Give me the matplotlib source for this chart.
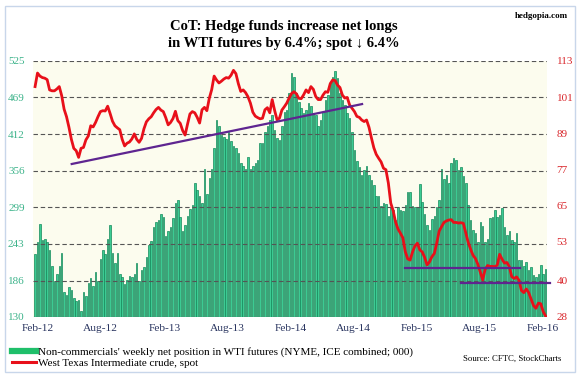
import matplotlib
matplotlib.use("Agg")
import matplotlib.pyplot as plt
import matplotlib.dates as mdates
from matplotlib.lines import Line2D
from matplotlib.patches import Rectangle
import pandas as pd

# weekly net longs (000 contracts), Jan-2012 .. Feb-2016
net_longs = [
    227, 245, 273, 249, 251, 245, 234, 209, 186, 197,
    208, 229, 169, 164, 177, 172, 159, 155, 156, 140,
    169, 162, 183, 190, 178, 199, 185, 219, 233, 227,
    251, 272, 228, 214, 229, 197, 192, 181, 187, 193,
    192, 197, 214, 185, 202, 207, 223, 241, 247, 269,
    276, 280,
    289, 285, 255, 263, 269, 282, 306, 310, 285, 262,
    272, 286, 296, 303, 336, 326, 316, 306, 359, 320,
    345, 359, 390, 434, 425, 411, 407, 404, 416, 401,
    394, 390, 383, 368, 363, 359, 377, 359, 363, 367,
    373, 399, 399, 416, 424, 434, 442, 418, 406, 403,
    424, 447, 449, 475, 506,
    501, 475, 462, 452, 444, 449, 460, 455, 444, 442,
    424, 434, 447, 465, 473, 491, 501, 510, 498, 475,
    465, 457, 444, 437, 416, 388, 370, 362, 349, 357,
    363, 349, 341, 334, 317, 316, 301, 306, 305, 286,
    300, 295, 280, 300, 295, 293, 303, 323, 323, 301,
    300, 300, 335, 308,
    289, 272, 265, 281, 286, 300, 311, 358, 343, 349,
    337, 367, 376, 373, 357, 362, 348, 336, 303, 279,
    264, 259, 245, 277, 270, 245, 251, 282, 285, 295,
    285, 287, 298, 269, 257, 263, 249, 246, 260, 218,
    218, 208, 215, 203, 207, 195, 192, 197, 210, 197,
    204,
]

# WTI spot, same weeks
wti_spot = [
    104.5, 109.0, 108.0, 107.5, 107.3, 106.8, 103.4, 103.1, 103.1, 103.7,
    104.5, 101.5, 97.0, 94.5, 91.0, 87.0, 84.0, 83.2, 81.0, 84.0,
    84.3, 86.8, 88.1, 91.5, 91.1, 92.6, 94.5, 96.2, 96.5, 96.4,
    98.0, 95.6, 93.0, 91.5, 90.8, 90.2, 87.0, 84.8, 85.7, 86.1,
    87.1, 88.8, 87.0, 86.0, 87.3, 90.5, 92.8, 93.8, 94.5, 95.8,
    96.9, 97.6, 96.7, 96.2, 94.2, 91.8, 92.6, 93.9, 96.3, 93.2,
    92.3, 89.9, 88.4, 92.0, 95.4, 96.2, 95.8, 94.3, 92.4, 96.8,
    97.6, 96.5, 100.6, 103.5, 108.0, 106.7, 105.7, 106.3, 107.0, 107.5,
    107.3, 108.3, 109.9, 108.8, 105.5, 102.9, 103.4, 102.5, 101.1, 99.0,
    96.0, 94.7, 94.2, 93.8, 94.0, 96.8, 97.5, 95.8, 100.2, 96.6,
    93.5, 94.0, 96.7, 97.8, 99.0, 100.7, 102.2, 102.8, 102.1, 100.6,
    100.5, 101.8, 103.4, 102.5, 104.5, 103.6, 101.2, 100.2, 100.2, 101.7,
    102.8, 102.6, 105.5, 106.7, 106.5, 105.0, 104.2, 101.7, 100.7, 100.9,
    98.4, 97.3, 96.2, 94.6, 94.3, 93.4, 92.9, 93.4, 91.0, 87.5,
    84.2, 82.0, 80.7, 79.5, 77.4, 76.9, 72.5, 65.8, 63.3, 59.5,
    57.2, 55.8, 54.3, 49.7, 47.3, 46.9, 49.6, 51.6, 52.5, 50.3,
    49.6, 47.8, 45.3, 46.3, 48.0, 49.1, 52.5, 56.5, 58.0, 59.4,
    59.9, 60.2, 60.3, 59.4, 59.4, 59.2, 59.3, 59.1, 56.0, 52.8,
    50.5, 48.5, 47.4, 45.5, 42.9, 40.3, 43.8, 45.1, 44.8, 44.8,
    44.7, 45.2, 48.8, 47.2, 45.9, 46.1, 44.7, 41.4, 40.8, 41.3,
    40.2, 36.8, 36.1, 37.3, 36.1, 34.0, 31.8, 30.9, 32.6, 32.4,
    29.8, 28.3,
]

last_week = "2016-02-09"
left_ticks = [130, 186, 243, 299, 356, 412, 469, 525]
right_ticks = [28, 40, 53, 65, 77, 89, 101, 113]

# trend / support lines drawn on the chart (date, price)
trend_up = (["2012-05-09", "2014-08-27"], [78.8, 98.7])
support_1 = (["2014-12-30", "2015-11-27"], [44.2, 44.2])
support_2 = (["2015-06-10", "2016-02-22"], [39.4, 39.4])

weeks = pd.date_range(end=last_week, periods=len(net_longs), freq="7D")

serif = ["Liberation Serif", "DejaVu Serif"]
plt.rcParams["font.family"] = serif

fig = plt.figure(figsize=(5.82, 3.79), dpi=100)
fig.patch.set_facecolor("white")
ax = fig.add_axes([33 / 582, 1 - 317 / 379, 514 / 582, 256 / 379])
ax.set_facecolor("#fcfcee")

ax.bar(weeks, net_longs, width=4.4, color="#3ccb93", edgecolor="#13895a",
       linewidth=0.5, zorder=1)
ax.set_ylim(130, 525)
ax.set_yticks(left_ticks)
ax.set_xlim(weeks[0] - pd.Timedelta(days=6), weeks[-1] + pd.Timedelta(days=4))
ax.grid(axis="y", color="#555555", linestyle=(0, (4, 2.5)), linewidth=0.8)
ax.set_axisbelow(False)
ax.xaxis.set_major_locator(mdates.MonthLocator(bymonth=[2, 8]))
ax.xaxis.set_major_formatter(mdates.DateFormatter("%b-%y"))
ax.tick_params(axis="x", length=0, pad=5, labelsize=8.2, labelcolor="#2a3560")
ax.tick_params(axis="y", length=0, pad=6, labelsize=8, labelcolor="#3cb38a")

ax2 = ax.twinx()
ax2.plot(weeks, wti_spot, color="#e8101a", linewidth=2.0, zorder=3)
for xs, ys in (trend_up, support_1, support_2):
    ax2.plot(pd.to_datetime(xs), ys, color="#5e2590", linewidth=1.6,
             zorder=4, clip_on=False)
ax2.set_ylim(28, 113)
ax2.set_yticks(right_ticks)
ax2.tick_params(axis="y", length=0, pad=7, labelsize=8, labelcolor="#d9262b")

for a in (ax, ax2):
    for s in a.spines.values():
        s.set_visible(False)

fig.text(0.488, 0.908, "CoT: Hedge funds increase net longs\nin WTI futures by 6.4%; spot \u2193 6.4%",
         ha="center", va="center", fontsize=10.5, fontweight="bold",
         linespacing=1.45)
fig.text(0.93, 0.958, "hedgopia.com", ha="center", va="center",
         fontsize=6.5, fontweight="bold")

handles = [Line2D([], [], color="#1fbf6a", linewidth=4.5),
           Line2D([], [], color="#e8101a", linewidth=2.2)]
labels = ["Non-commercials' weekly net position in WTI futures (NYME, ICE combined; 000)",
          "West Texas Intermediate crude, spot"]
fig.legend(handles, labels, loc="upper left", bbox_to_anchor=(12 / 582, 1 - 347 / 379),
           frameon=False, fontsize=8, handlelength=2.2, handletextpad=0.15,
           labelspacing=0.12, borderpad=0, borderaxespad=0)
fig.text(0.965, 1 - 359 / 379, "Source: CFTC, StockCharts", ha="right",
         va="center", fontsize=6.3)

fig.patches.append(Rectangle((5 / 582, 1 - 372 / 379), 570 / 582, 366 / 379,
                             transform=fig.transFigure, fill=False,
                             edgecolor="#c8d6ea", linewidth=1.0))

fig.savefig("out.png", dpi=100)
